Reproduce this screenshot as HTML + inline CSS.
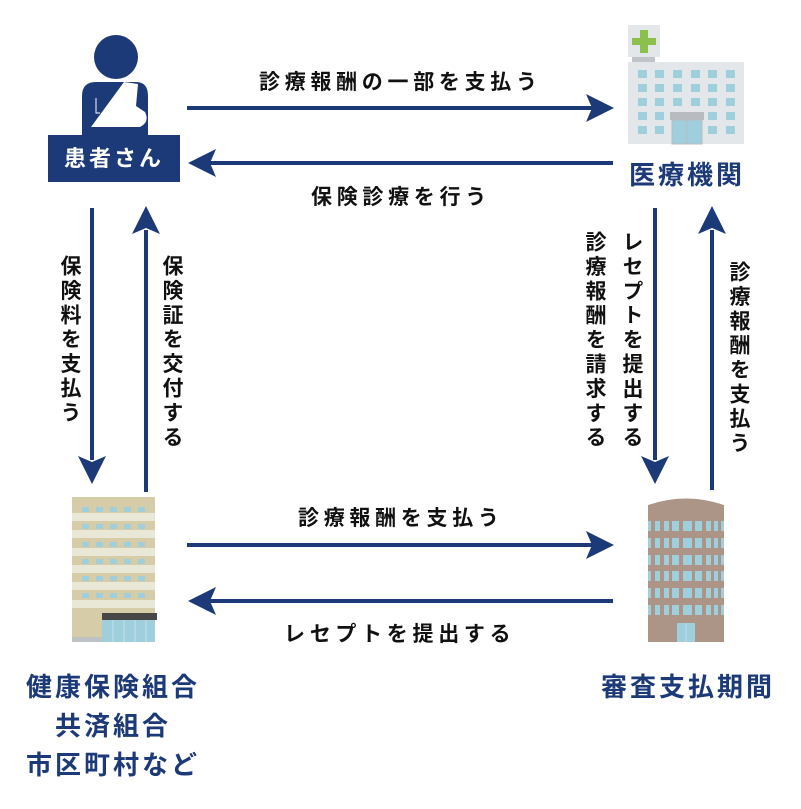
<!DOCTYPE html>
<html><head><meta charset="utf-8"><style>
html,body{margin:0;padding:0;background:#fff;}
body{width:801px;height:809px;position:relative;overflow:hidden;font-family:"Liberation Sans","Noto Sans CJK JP",sans-serif;color:#111;}
.t{position:absolute;font-size:21px;font-weight:600;letter-spacing:4.7px;white-space:nowrap;}
.v{position:absolute;writing-mode:vertical-rl;font-size:21px;font-weight:600;letter-spacing:3.4px;white-space:nowrap;}
.b{position:absolute;font-size:26px;font-weight:700;color:#1c3a78;letter-spacing:3px;white-space:nowrap;text-align:center;}
</style></head><body>
<svg width="801" height="809" style="position:absolute;left:0;top:0">
<g fill="#1c3a78" stroke="none">
<rect x="187" y="106" width="405" height="4"/>
<path d="M614,108 L586,94 L592,108 L586,122 Z"/>
<rect x="210" y="161" width="403" height="4"/>
<path d="M188,163 L216,149 L210,163 L216,177 Z"/>
<rect x="187" y="543" width="405" height="4"/>
<path d="M614,545 L586,531 L592,545 L586,559 Z"/>
<rect x="210" y="599" width="403" height="4"/>
<path d="M188,601 L216,587 L210,601 L216,615 Z"/>
<rect x="90" y="208" width="4" height="252"/>
<path d="M92,484 L78,456 L92,462 L106,456 Z"/>
<rect x="144" y="230" width="4" height="262"/>
<path d="M146,206 L132,234 L146,228 L160,234 Z"/>
<rect x="653" y="208" width="4" height="252"/>
<path d="M655,484 L641,456 L655,462 L669,456 Z"/>
<rect x="710" y="230" width="4" height="260"/>
<path d="M712,206 L698,234 L712,228 L726,234 Z"/>
</g>
<g fill="#1c3a78">
<circle cx="116" cy="57" r="22"/>
<path d="M82,135 L82,96 Q82,82 96,82 L136,82 Q148,82 148,96 L148,135 Z"/>
<rect x="48" y="135" width="132" height="47"/>
</g>
<path d="M124,82 L91,127 L140,127 Q150,122 145,112 L136,106 L138,84 Z" fill="#fff"/>
<path d="M96,98 L96,113 L100,113" stroke="#fff" stroke-width="1" fill="none"/>
<rect x="628" y="25" width="32" height="32" fill="#e4e7ea"/>
<path d="M640,30 h8 v8 h8 v7 h-8 v8 h-8 v-8 h-8 v-7 h8 z" fill="#8cc04c"/>
<rect x="632" y="57" width="23" height="5" fill="#c0c4c8"/>
<rect x="628" y="62" width="116" height="82" fill="#e4e7ea"/>
<g fill="#9fcfdc">
<rect x="638" y="70" width="9" height="8"/><rect x="655" y="70" width="9" height="8"/><rect x="673" y="70" width="9" height="8"/><rect x="691" y="70" width="9" height="8"/><rect x="708" y="70" width="9" height="8"/><rect x="726" y="70" width="9" height="8"/>
<rect x="638" y="84" width="9" height="8"/><rect x="655" y="84" width="9" height="8"/><rect x="673" y="84" width="9" height="8"/><rect x="691" y="84" width="9" height="8"/><rect x="708" y="84" width="9" height="8"/><rect x="726" y="84" width="9" height="8"/>
<rect x="638" y="98" width="9" height="8"/><rect x="655" y="98" width="9" height="8"/><rect x="673" y="98" width="9" height="8"/><rect x="691" y="98" width="9" height="8"/><rect x="708" y="98" width="9" height="8"/><rect x="726" y="98" width="9" height="8"/>
<rect x="638" y="112" width="9" height="8"/><rect x="655" y="112" width="9" height="8"/><rect x="708" y="112" width="9" height="8"/><rect x="726" y="112" width="9" height="8"/>
<rect x="638" y="126" width="9" height="8"/><rect x="655" y="126" width="9" height="8"/><rect x="708" y="126" width="9" height="8"/><rect x="726" y="126" width="9" height="8"/>
</g>
<rect x="670" y="112" width="34" height="8" fill="#b8bcc0"/>
<rect x="672" y="120" width="30" height="24" fill="#9fcfdc" stroke="#b8bcc0" stroke-width="1"/>
<line x1="687" y1="120" x2="687" y2="144" stroke="#b8bcc0"/>
<rect x="72" y="497" width="83" height="145" fill="#d6cca8"/>
<g fill="#e9e7d6">
<rect x="72" y="513" width="83" height="8"/><rect x="72" y="530" width="83" height="8"/><rect x="72" y="548" width="83" height="8"/><rect x="72" y="565" width="83" height="8"/><rect x="72" y="582" width="83" height="8"/><rect x="72" y="600" width="83" height="8"/>
</g>
<g fill="#9fcfdc">
<rect x="82" y="507" width="7" height="5"/><rect x="96" y="507" width="7" height="5"/><rect x="110" y="507" width="7" height="5"/><rect x="124" y="507" width="7" height="5"/><rect x="138" y="507" width="7" height="5"/>
<rect x="82" y="524" width="7" height="5"/><rect x="96" y="524" width="7" height="5"/><rect x="110" y="524" width="7" height="5"/><rect x="124" y="524" width="7" height="5"/><rect x="138" y="524" width="7" height="5"/>
<rect x="82" y="542" width="7" height="5"/><rect x="96" y="542" width="7" height="5"/><rect x="110" y="542" width="7" height="5"/><rect x="124" y="542" width="7" height="5"/><rect x="138" y="542" width="7" height="5"/>
<rect x="82" y="559" width="7" height="5"/><rect x="96" y="559" width="7" height="5"/><rect x="110" y="559" width="7" height="5"/><rect x="124" y="559" width="7" height="5"/><rect x="138" y="559" width="7" height="5"/>
<rect x="82" y="576" width="7" height="5"/><rect x="96" y="576" width="7" height="5"/><rect x="110" y="576" width="7" height="5"/><rect x="124" y="576" width="7" height="5"/><rect x="138" y="576" width="7" height="5"/>
<rect x="82" y="593" width="7" height="5"/><rect x="96" y="593" width="7" height="5"/><rect x="110" y="593" width="7" height="5"/><rect x="124" y="593" width="7" height="5"/><rect x="138" y="593" width="7" height="5"/>
<rect x="102" y="620" width="53" height="22"/>
</g>
<rect x="102" y="613" width="55" height="7" fill="#474747"/>
<rect x="72" y="637" width="30" height="5" fill="#bfc2c4"/>
<g stroke="#c4e0e8" stroke-width="1"><line x1="113" y1="620" x2="113" y2="642"/><line x1="124" y1="620" x2="124" y2="642"/><line x1="135" y1="620" x2="135" y2="642"/><line x1="146" y1="620" x2="146" y2="642"/></g>
<path d="M648,505 Q686,492 724,505 L724,642 L648,642 Z" fill="#ac9486"/>
<g fill="#9fcfdc">
<g id="row">
<rect x="648" y="521" width="3" height="10"/><rect x="655" y="521" width="5" height="10"/><rect x="664" y="521" width="5" height="10"/><rect x="672" y="521" width="7" height="10"/><rect x="683" y="521" width="9" height="10"/><rect x="695" y="521" width="7" height="10"/><rect x="706" y="521" width="5" height="10"/><rect x="714" y="521" width="4" height="10"/><rect x="721" y="521" width="3" height="10"/>
</g>
<use href="#row" y="17"/><use href="#row" y="34"/><use href="#row" y="50"/><use href="#row" y="67"/><use href="#row" y="84"/>
<rect x="677" y="623" width="18" height="19"/>
</g>
<line x1="686" y1="623" x2="686" y2="642" stroke="#bcdce6"/>
</svg>

<div style="position:absolute;left:48px;top:135px;width:132px;height:47px;line-height:47px;text-align:center;color:#fff;font-size:22px;font-weight:600;letter-spacing:3px;">患者さん</div>

<div class="t" style="left:259px;top:66px;">診療報酬の一部を支払う</div>
<div class="t" style="left:311px;top:181px;">保険診療を行う</div>
<div class="t" style="left:298px;top:502px;">診療報酬を支払う</div>
<div class="t" style="left:284px;top:618px;">レセプトを提出する</div>

<div class="v" style="left:54px;top:255px;">保険料を支払う</div>
<div class="v" style="left:156px;top:255px;">保険証を交付する</div>
<div class="v" style="left:616px;top:231px;">レセプトを提出する</div>
<div class="v" style="left:579px;top:231px;">診療報酬を請求する</div>
<div class="v" style="left:723px;top:261px;">診療報酬を支払う</div>

<div class="b" style="left:626px;top:155px;width:122px;">医療機関</div>
<div class="b" style="left:13px;top:667px;width:200px;">健康保険組合</div>
<div class="b" style="left:13px;top:706px;width:200px;">共済組合</div>
<div class="b" style="left:13px;top:745px;width:200px;">市区町村など</div>
<div class="b" style="left:588px;top:667px;width:200px;">審査支払期間</div>
</body></html>
